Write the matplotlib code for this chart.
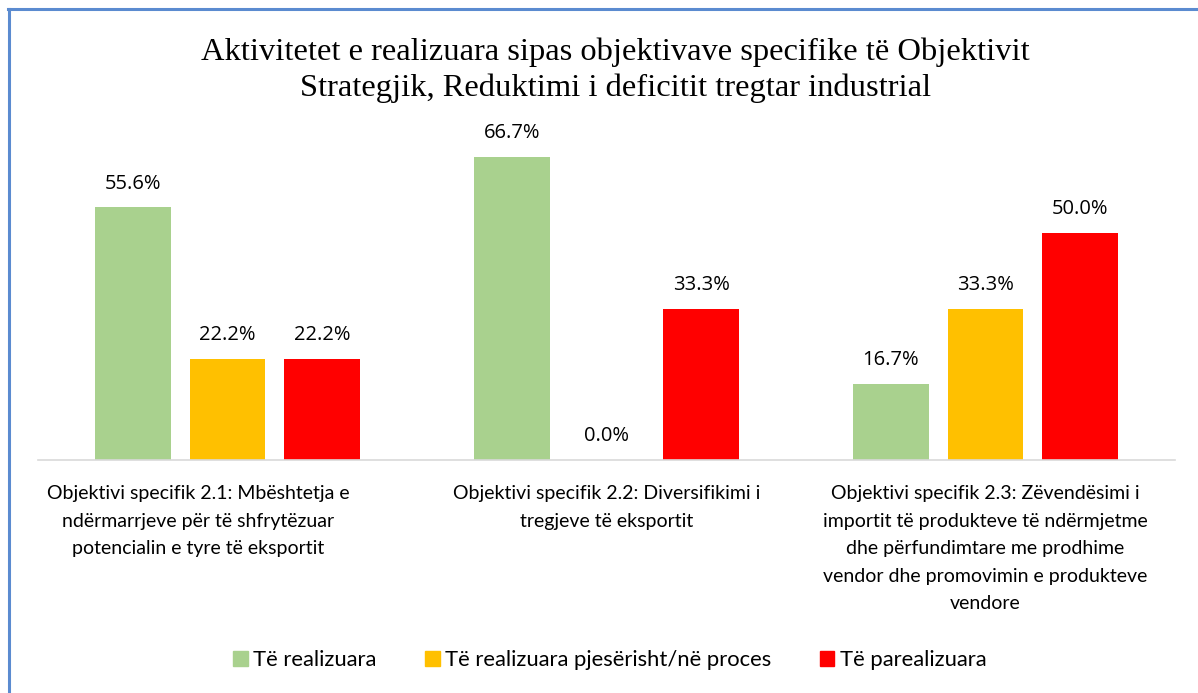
import numpy as np
import matplotlib.pyplot as plt
from matplotlib.lines import Line2D
from matplotlib.transforms import ScaledTranslation

# data
categories = [
    "Objektivi specifik 2.1: Mbështetja e\nndërmarrjeve për të shfrytëzuar\npotencialin e tyre të eksportit",
    "Objektivi specifik 2.2: Diversifikimi i\ntregjeve të eksportit",
    "Objektivi specifik 2.3: Zëvendësimi i\nimportit të produkteve të ndërmjetme\ndhe përfundimtare me prodhime\nvendor dhe promovimin e produkteve\nvendore",
]
series_names = ["Të realizuara", "Të realizuara pjesërisht/në proces", "Të parealizuara"]
realizuara = [55.6, 66.7, 16.7]
pjeserisht = [22.2, 0.0, 33.3]
parealizuara = [22.2, 33.3, 50.0]
colors = ["#A9D18E", "#FFC000", "#FF0000"]

plt.rcParams['font.family'] = ['Lato', 'DejaVu Sans']

fig = plt.figure(figsize=(11.98, 6.93), dpi=100)
ax = fig.add_axes([38 / 1198, 0.3362, 1137 / 1198, 0.4588])

x = np.arange(len(categories))
w = 0.2
off = 0.25
for i, (vals, name, c) in enumerate(zip([realizuara, pjeserisht, parealizuara], series_names, colors)):
    bars = ax.bar(x + (i - 1) * off, vals, width=w, color=c, label=name)
    ax.bar_label(bars, labels=["%.1f%%" % v for v in vals], padding=10, fontsize=14.5,
                 family="Open Sans", color="#000000")

ax.set_xlim(-0.5, 2.5)
ax.set_ylim(0, 70)
ax.set_yticks([])
for s in ["top", "right", "left"]:
    ax.spines[s].set_visible(False)
ax.spines["bottom"].set_color("#D9D9D9")
ax.spines["bottom"].set_linewidth(1.2)
ax.set_xticks(x)
ax.set_xticklabels(categories, fontsize=14, linespacing=1.75)
ax.tick_params(axis="x", length=0, pad=18)
# the first category label sits a bit to the left in the original
lbl = ax.get_xticklabels()[0]
lbl.set_transform(lbl.get_transform() + ScaledTranslation(-0.29, 0, fig.dpi_scale_trans))

# title
fig.text(0.514, 0.899, "Aktivitetet e realizuara sipas objektivave specifike të Objektivit\nStrategjik, Reduktimi i deficitit tregtar industrial",
         ha="center", va="center", fontsize=23.4, family="Liberation Serif", linespacing=1.27)

# legend
handles = [plt.Rectangle((0, 0), 1, 1, color=c) for c in colors]
fig.legend(handles, series_names, loc="center", bbox_to_anchor=(0.509, 0.047), ncol=3,
           frameon=False, fontsize=15.8, handlelength=0.68, handleheight=0.68,
           handletextpad=0.23, columnspacing=2.2)

# frame border (top and left edges visible)
fig.add_artist(Line2D([8 / 1198, 1], [1 - 9 / 693, 1 - 9 / 693], transform=fig.transFigure, color="#5B8BD0", lw=2.2))
fig.add_artist(Line2D([9 / 1198, 9 / 1198], [0, 1 - 9 / 693], transform=fig.transFigure, color="#5B8BD0", lw=2.2))

fig.savefig("out.png", dpi=100)
